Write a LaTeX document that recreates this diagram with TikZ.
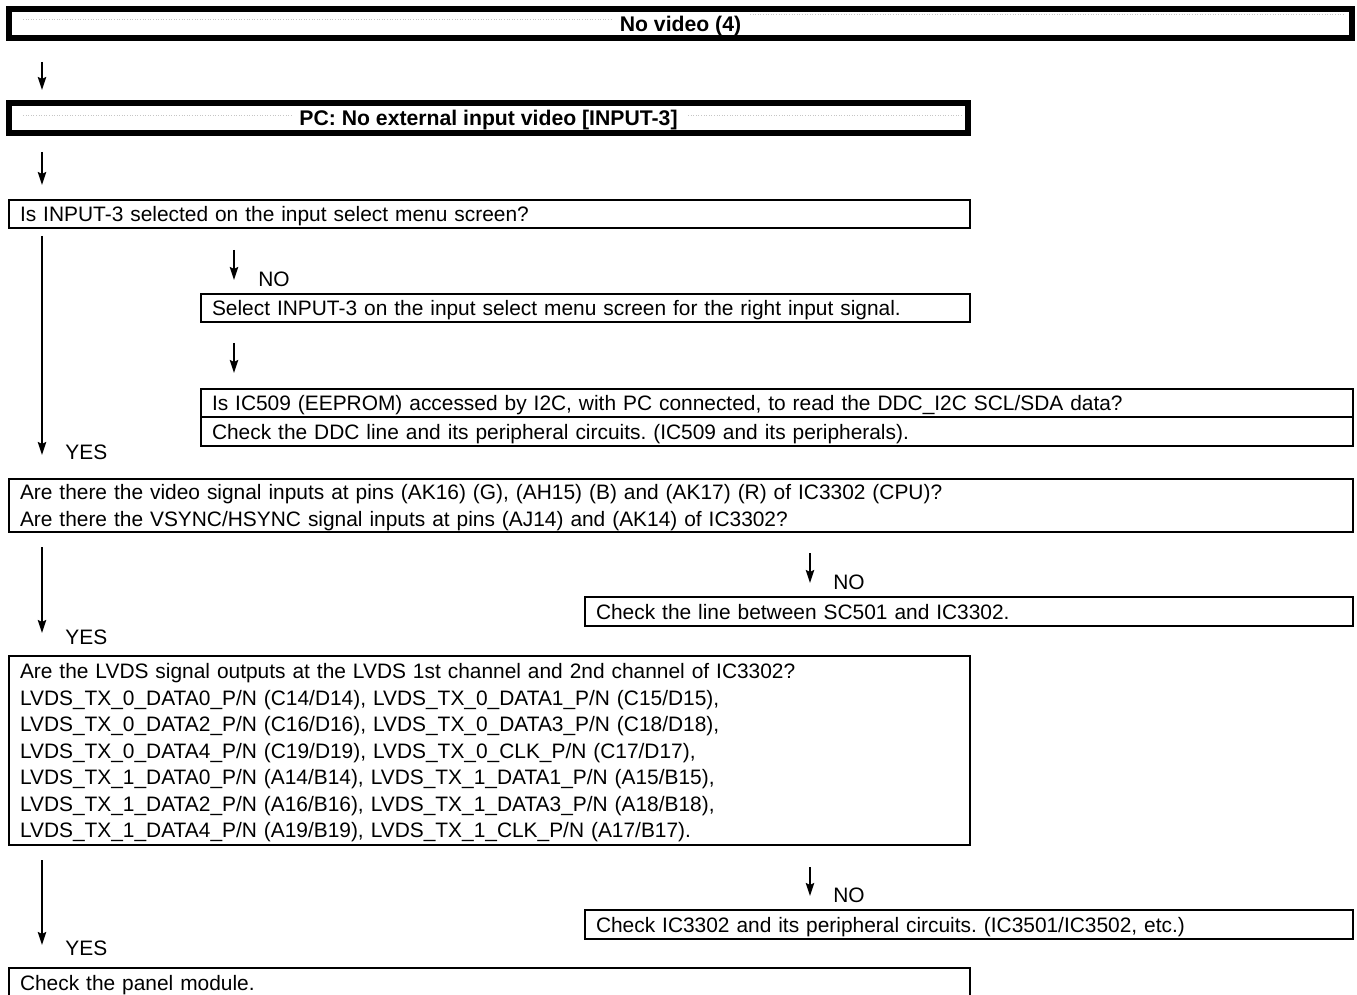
\documentclass[tikz,border=0pt]{standalone}
\usepackage{fontspec}
\setmainfont{Liberation Sans}
\usetikzlibrary{arrows.meta,positioning}

\begin{document}
\frenchspacing
\begin{tikzpicture}[x=0.5pt, y=-0.5pt,
    titlebox/.style={rectangle, draw=black, line width=3pt, outer sep=0pt,
                     inner sep=0pt, anchor=north west, text height=7.6pt, text depth=0pt,
                     font=\bfseries\fontsize{10.6}{12}\selectfont},
    box/.style={rectangle, draw=black, line width=0.75pt, outer sep=0pt,
                inner xsep=5.5pt, inner ysep=0pt, anchor=north west,
                align=left, font=\fontsize{10.45}{13.25}\selectfont},
    one/.style={text height=7.5pt, text depth=0pt},
    arr/.style={-{Stealth[length=6.5pt, width=4.2pt, inset=1pt]}, line width=0.9pt},
    lbl/.style={anchor=west, inner sep=0pt, font=\fontsize{10.45}{12}\selectfont},
    leader/.style={densely dotted, gray!45, line width=0.3pt}
]
    \useasboundingbox (0,0) rectangle (1357,995);

    % headings
    \node[titlebox, minimum width=671.5pt, minimum height=14.75pt] (T1) at (9,9) {No video (4)};
    \node[titlebox, minimum width=479.5pt, minimum height=15pt] (T2) at (9,103) {PC: No external input video [INPUT-3]};
    \draw[leader] (23,19) -- (612,19);
    \draw[leader] (750,14) -- (1345,14);
    \draw[leader] (23,115) -- (292,115);
    \draw[leader] (688,115) -- (962,115);

    % questions and actions
    \node[box, one, minimum width=480.5pt, minimum height=14pt, text width=469.5pt] (Q1) at (9,200)
        {Is INPUT-3 selected on the input select menu screen?};
    \node[box, one, minimum width=384.5pt, minimum height=14pt, text width=373.5pt] (A1) at (201,294)
        {Select INPUT-3 on the input select menu screen for the right input signal.};
    \node[box, one, minimum width=576pt, minimum height=14pt, text width=565pt] (Q2) at (201,389)
        {Is IC509 (EEPROM) accessed by I2C, with PC connected, to read the DDC\_I2C SCL/SDA data?};
    \node[box, one, minimum width=576pt, minimum height=14.5pt, text width=565pt] (A2) at (201,417)
        {Check the DDC line and its peripheral circuits. (IC509 and its peripherals).};
    \node[box, text height=7.5pt, text depth=13.5pt, minimum width=672pt, minimum height=26.5pt, text width=661pt,
          font=\fontsize{10.45}{13.5}\selectfont] (Q3) at (9,479)
        {Are there the video signal inputs at pins (AK16) (G), (AH15) (B) and (AK17) (R) of IC3302 (CPU)?\\
         Are there the VSYNC/HSYNC signal inputs at pins (AJ14) and (AK14) of IC3302?};
    \node[box, one, minimum width=384pt, minimum height=14.5pt, text width=373pt] (A3) at (585,597)
        {Check the line between SC501 and IC3302.};
    \node[box, text height=7.5pt, text depth=79.5pt, minimum width=480.5pt, minimum height=94.5pt, text width=469.5pt] (Q4) at (9,656)
        {Are the LVDS signal outputs at the LVDS 1st channel and 2nd channel of IC3302?\\
         LVDS\_TX\_0\_DATA0\_P/N (C14/D14), LVDS\_TX\_0\_DATA1\_P/N (C15/D15),\\
         LVDS\_TX\_0\_DATA2\_P/N (C16/D16), LVDS\_TX\_0\_DATA3\_P/N (C18/D18),\\
         LVDS\_TX\_0\_DATA4\_P/N (C19/D19), LVDS\_TX\_0\_CLK\_P/N (C17/D17),\\
         LVDS\_TX\_1\_DATA0\_P/N (A14/B14), LVDS\_TX\_1\_DATA1\_P/N (A15/B15),\\
         LVDS\_TX\_1\_DATA2\_P/N (A16/B16), LVDS\_TX\_1\_DATA3\_P/N (A18/B18),\\
         LVDS\_TX\_1\_DATA4\_P/N (A19/B19), LVDS\_TX\_1\_CLK\_P/N (A17/B17).};
    \node[box, one, minimum width=384pt, minimum height=14.5pt, text width=373pt] (A4) at (585,910)
        {Check IC3302 and its peripheral circuits. (IC3501/IC3502, etc.)};
    \node[box, one, minimum width=480.5pt, minimum height=15pt, text width=469.5pt] (A5) at (9,968)
        {Check the panel module.};

    % arrow ends
    \coordinate (s1) at (42,62);   \coordinate (e1) at (42,90);
    \coordinate (s2) at (42,152);  \coordinate (e2) at (42,185);
    \coordinate (s3) at (42,236);  \coordinate (e3) at (42,455);
    \coordinate (s4) at (234,250); \coordinate (e4) at (234,280);
    \coordinate (s5) at (234,343); \coordinate (e5) at (234,373);
    \coordinate (s6) at (42,547);  \coordinate (e6) at (42,633);
    \coordinate (s7) at (810,553); \coordinate (e7) at (810,583);
    \coordinate (s8) at (42,860);  \coordinate (e8) at (42,945);
    \coordinate (s9) at (810,867); \coordinate (e9) at (810,896);

    \draw[arr] (s1) -- (e1);
    \draw[arr] (s2) -- (e2);
    \draw[arr] (s3) -- (e3);
    \draw[arr] (s4) -- (e4);
    \draw[arr] (s5) -- (e5);
    \draw[arr] (s6) -- (e6);
    \draw[arr] (s7) -- (e7);
    \draw[arr] (s8) -- (e8);
    \draw[arr] (s9) -- (e9);

    % branch labels
    \node[lbl] (yes1) at (65,452) {YES};
    \node[lbl] (no1) at (258,279) {NO};
    \node[lbl] (yes2) at (65,637) {YES};
    \node[lbl] (no2) at (833,582) {NO};
    \node[lbl] (yes3) at (65,948) {YES};
    \node[lbl] (no3) at (833,895) {NO};
\end{tikzpicture}
\end{document}
